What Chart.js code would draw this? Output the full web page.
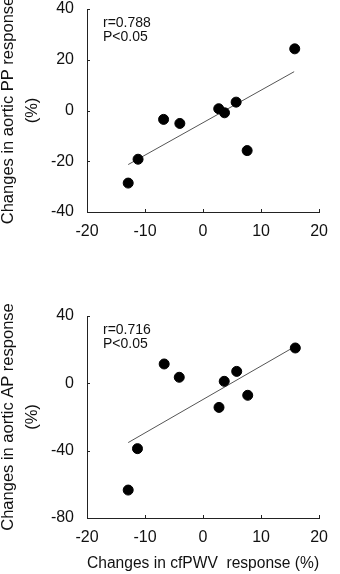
<!DOCTYPE html>
<html>
<head>
<meta charset="utf-8">
<script src="https://cdn.jsdelivr.net/npm/chart.js@4/dist/chart.umd.min.js"></script>
<style>
  html, body { margin: 0; padding: 0; background: #fff; }
  canvas { position: absolute; left: 0; display: block; }
  #ppChart { top: 0; }
  #apChart { top: 290px; }
</style>
</head>
<body>
<canvas id="ppChart" width="340" height="290"></canvas>
<canvas id="apChart" width="340" height="284"></canvas>
<script>
// cfPWV change (%) per subject
var ppX = [-12.9, -11.2, -6.8, -4.0, 2.7, 3.7, 5.7, 7.6, 15.8];
var ppChange = [-28.6, -19.2, -3.5, -5.1, 0.7, -0.9, 3.3, -15.8, 24.3];
var apX = [-12.9, -11.3, -6.7, -4.1, 2.75, 3.65, 5.8, 7.7, 15.9];
var apChange = [-63.4, -38.8, 11.5, 3.6, -14.3, 1.2, 7.1, -7.1, 21.0];

// regression line end points
var ppFitX = [-12.9, 15.7];
var ppFitY = [-21.3, 15.3];
var apFitX = [-12.9, 15.5];
var apFitY = [-35.2, 21.2];

var xTicks = [-20, -10, 0, 10, 20];
var ppTicks = [-40, -20, 0, 20, 40];
var apTicks = [-80, -40, 0, 40];

var FONT = "'Liberation Sans', Arial, Helvetica, sans-serif";

function pts(xs, ys) {
  var out = [];
  for (var i = 0; i < xs.length; i++) out.push({x: xs[i], y: ys[i]});
  return out;
}

// small ticks pointing into the plot + r / P text
var innerTicks = {
  id: 'innerTicks',
  afterDraw: function(chart, args, opts) {
    var ctx = chart.ctx;
    var a = chart.chartArea;
    var xs = chart.scales.x, ys = chart.scales.y;
    ctx.save();
    ctx.strokeStyle = '#222';
    ctx.lineWidth = 1;
    ctx.beginPath();
    xs.ticks.forEach(function(t) {
      var px = Math.round(xs.getPixelForValue(t.value)) + 0.5;
      ctx.moveTo(px, a.bottom);
      ctx.lineTo(px, a.bottom - 3);
    });
    ys.ticks.forEach(function(t) {
      var py = Math.round(ys.getPixelForValue(t.value)) + 0.5;
      ctx.moveTo(a.left, py);
      ctx.lineTo(a.left + 3, py);
    });
    ctx.stroke();
    ctx.fillStyle = '#111';
    ctx.font = '14px ' + FONT;
    ctx.textBaseline = 'middle';
    ctx.fillText(opts.r, a.left + 16, a.top + 14);
    ctx.fillText('P<0.05', a.left + 16, a.top + 28.5);
    ctx.restore();
  }
};

function makeChart(id, xs, ys, fx, fy, yTicks, yTitle, rText, xTitle, topPad, xHeight) {
  var ctx = document.getElementById(id);
  return new Chart(ctx, {
    type: 'scatter',
    data: {
      datasets: [
        {
          data: pts(xs, ys),
          backgroundColor: '#000',
          borderColor: '#000',
          pointRadius: 5,
          pointHoverRadius: 5
        },
        {
          type: 'line',
          data: pts(fx, fy),
          borderColor: '#555',
          borderWidth: 1,
          pointRadius: 0,
          fill: false
        }
      ]
    },
    options: {
      responsive: false,
      animation: false,
      layout: { padding: { top: topPad, right: 11, left: 0, bottom: 1 } },
      plugins: {
        legend: { display: false },
        tooltip: { enabled: false },
        innerTicks: { r: rText }
      },
      scales: {
        x: {
          type: 'linear',
          min: -20, max: 20,
          afterBuildTicks: function(s) { s.ticks = xTicks.map(function(v) { return {value: v}; }); },
          afterFit: function(s) { s.height = xHeight; },
          grid: { drawOnChartArea: false, drawTicks: false },
          border: { display: true, color: '#222', width: 1 },
          ticks: { color: '#111', padding: 12, maxRotation: 0, autoSkip: false,
                   font: { family: FONT, size: 16, lineHeight: 1 } },
          title: {
            display: !!xTitle,
            text: xTitle,
            color: '#111',
            font: { family: FONT, size: 16 },
            padding: { top: 8, bottom: 0 }
          }
        },
        y: {
          type: 'linear',
          min: yTicks[0], max: yTicks[yTicks.length - 1],
          afterBuildTicks: function(s) { s.ticks = yTicks.map(function(v) { return {value: v}; }); },
          afterFit: function(s) { s.width = 87; s.paddingTop = 0; s.paddingBottom = 0; },
          grid: { drawOnChartArea: false, drawTicks: false },
          border: { display: true, color: '#222', width: 1 },
          ticks: { color: '#111', padding: 13, autoSkip: false,
                   font: { family: FONT, size: 16, lineHeight: 1 } },
          title: {
            display: true,
            text: yTitle,
            color: '#111',
            font: { family: FONT, size: 16.5, lineHeight: '24px' },
            padding: { top: -4, bottom: 0 }
          }
        }
      }
    },
    plugins: [innerTicks]
  });
}

makeChart('ppChart', ppX, ppChange, ppFitX, ppFitY, ppTicks,
  ['Changes in aortic PP response', '(%)'], 'r=0.788', '', 9, 77);
makeChart('apChart', apX, apChange, apFitX, apFitY, apTicks,
  ['Changes in aortic AP response', '(%)'], 'r=0.716', 'Changes in cfPWV  response (%)', 26, 55);
</script>
</body>
</html>
